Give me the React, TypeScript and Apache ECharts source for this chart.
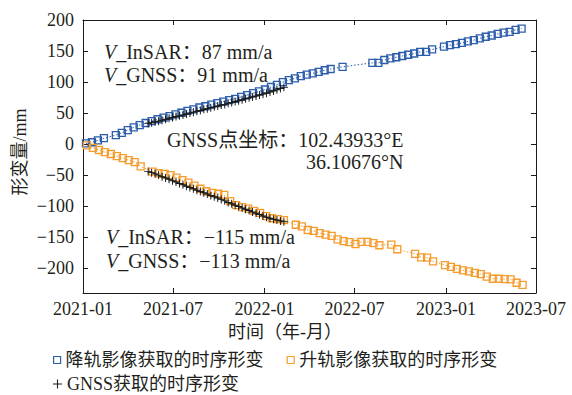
import React, { useEffect, useRef } from 'react';
import * as echarts from 'echarts';

const blueDates = [
  '2021-01-07', '2021-01-19', '2021-01-31', '2021-02-12', '2021-03-08', '2021-03-20', '2021-04-01', '2021-04-13',
  '2021-04-25', '2021-05-07', '2021-05-19', '2021-05-31', '2021-06-12', '2021-06-24', '2021-07-06', '2021-07-18',
  '2021-07-30', '2021-08-11', '2021-08-23', '2021-09-04', '2021-09-16', '2021-09-28', '2021-10-10', '2021-10-22',
  '2021-11-03', '2021-11-15', '2021-11-27', '2021-12-09', '2021-12-21', '2022-01-02', '2022-01-14', '2022-01-26',
  '2022-02-07', '2022-02-19', '2022-03-03', '2022-03-15', '2022-03-27', '2022-04-08', '2022-04-20', '2022-05-02',
  '2022-05-14', '2022-06-07', '2022-08-06', '2022-08-18', '2022-08-30', '2022-09-11', '2022-09-23', '2022-10-05',
  '2022-10-17', '2022-10-29', '2022-11-10', '2022-11-22', '2022-12-04', '2022-12-28', '2023-01-09', '2023-01-21',
  '2023-02-02', '2023-02-14', '2023-02-26', '2023-03-10', '2023-03-22', '2023-04-03', '2023-04-15', '2023-04-27',
  '2023-05-09', '2023-05-21', '2023-06-02',
];
const blueValues = [
  1, 3, 6, 9.5, 14.5, 18, 22.5, 27,
  30.5, 34, 37, 40, 42.5, 45, 48, 50.5,
  53.5, 56, 59, 61, 63.5, 66, 68.5, 71,
  73, 76, 79, 82, 85, 88, 92, 95.5,
  100, 103, 106, 109.5, 112, 114, 116.5, 119,
  121, 124.5, 131, 131, 135.5, 138, 140, 142,
  144, 146, 148.5, 148.5, 152.5, 157, 159.5, 161,
  163, 165.5, 167.5, 170.5, 173, 175, 177.5, 179.5,
  181, 184, 186,
];

const orangeDates = [
  '2021-01-09', '2021-01-21', '2021-02-02', '2021-02-14', '2021-02-26', '2021-03-10', '2021-03-22', '2021-04-03',
  '2021-04-15', '2021-04-27', '2021-05-21', '2021-06-02', '2021-06-14', '2021-06-26', '2021-07-08', '2021-07-20',
  '2021-08-01', '2021-08-13', '2021-08-25', '2021-09-06', '2021-09-18', '2021-09-30', '2021-10-12', '2021-10-24',
  '2021-11-05', '2021-11-17', '2021-11-29', '2021-12-11', '2021-12-23', '2022-01-04', '2022-01-16', '2022-01-28',
  '2022-02-09', '2022-03-05', '2022-03-17', '2022-03-29', '2022-04-10', '2022-04-22', '2022-05-04', '2022-05-16',
  '2022-05-28', '2022-06-09', '2022-06-21', '2022-07-03', '2022-07-15', '2022-07-27', '2022-08-08', '2022-08-20',
  '2022-09-13', '2022-09-25', '2022-10-31', '2022-11-12', '2022-11-24', '2022-12-06', '2022-12-30', '2023-01-11',
  '2023-01-23', '2023-02-04', '2023-02-16', '2023-02-28', '2023-03-12', '2023-03-24', '2023-04-05', '2023-04-17',
  '2023-04-29', '2023-05-11', '2023-05-23', '2023-06-04',
];
const orangeValues = [
  -2, -6, -9.5, -13, -16, -19.5, -22.5, -26,
  -29, -36, -44.5, -47, -48, -50, -54, -58,
  -62, -67, -72, -76, -78.5, -80, -82, -92,
  -98.5, -101.5, -104, -107.5, -111, -116, -119.5, -121,
  -122.5, -130, -132.5, -138.5, -140, -143.5, -146, -148,
  -153.5, -156.5, -158, -161, -157.5, -157.5, -159.5, -163,
  -162, -169.5, -177, -182.5, -183, -189, -195, -198,
  -201, -203.5, -205, -207.5, -209.7, -213.5, -217, -217,
  -217.5, -218, -223.5, -227,
];

const gnssDates = [
  '2021-05-12', '2021-05-19', '2021-05-26', '2021-06-02', '2021-06-09', '2021-06-16', '2021-06-23', '2021-06-30',
  '2021-07-07', '2021-07-14', '2021-07-21', '2021-07-28', '2021-08-04', '2021-08-11', '2021-08-18', '2021-08-25',
  '2021-09-01', '2021-09-08', '2021-09-15', '2021-09-22', '2021-09-29', '2021-10-06', '2021-10-13', '2021-10-20',
  '2021-10-27', '2021-11-03', '2021-11-10', '2021-11-17', '2021-11-24', '2021-12-01', '2021-12-08', '2021-12-15',
  '2021-12-22', '2021-12-29', '2022-01-05', '2022-01-12', '2022-01-19', '2022-01-26', '2022-02-02', '2022-02-09',
];
const gnssDescValues = [
  33, 34.5, 36, 37, 38.5, 40, 41.5, 43,
  44.5, 45.5, 47, 48.5, 50, 51.5, 53, 54,
  56, 57, 58.5, 60, 61.5, 63, 64, 66,
  67, 68.5, 70, 71.5, 73, 74.5, 76, 77.5,
  79, 80.5, 82, 84, 85.5, 87.5, 89.5, 91.5,
];
const gnssAscValues = [
  -44, -46, -48, -50, -52.5, -54.5, -56.5, -59,
  -61, -63.5, -65.5, -68, -70, -72, -74.5, -76.5,
  -78.5, -80.5, -83, -85, -87, -89.5, -91.5, -94,
  -96, -98.5, -100.5, -103, -105, -107, -109.5, -111.5,
  -113.5, -116, -118, -119.5, -121, -122.5, -124, -125,
];

const yTicks = [-200, -150, -100, -50, 0, 50, 100, 150, 200];
const xTickMonths = ['2021-01-01', '2021-07-01', '2022-01-01', '2022-07-01', '2023-01-01', '2023-07-01'];

const seriesNames = ['降轨影像获取的时序形变', '升轨影像获取的时序形变', 'GNSS获取的时序形变'];

const FAM = '"Liberation Serif", "Noto Sans CJK SC", serif';
const TXT = '#231f20';
const BLUE = '#2b5dab';
const ORANGE = '#f59c2f';
const BLACK = '#1a1a1a';
const PLUS = 'path://M4.4,0h1.2v4.4h4.4v1.2h-4.4v4.4h-1.2v-4.4h-4.4v-1.2h4.4z';

function ts(s: string) {
  const [y, m, d] = s.split('-').map(Number);
  return Date.UTC(y, m - 1, d);
}
function fmtMonth(v: number) {
  const d = new Date(v);
  const m = d.getUTCMonth() + 1;
  return d.getUTCFullYear() + '-' + (m < 10 ? '0' + m : '' + m);
}
function fmtY(v: number) {
  return v < 0 ? '\u2212' + Math.abs(v) : String(v);
}

export default function App() {
  const ref = useRef<HTMLDivElement>(null);
  useEffect(() => {
    const chart = echarts.init(ref.current!, null, { renderer: 'svg' });
    const xTicks = xTickMonths.map(ts);
    const xMin = xTicks[0];
    const xMax = xTicks[xTicks.length - 1];
    const baseX = {
      type: 'value',
      min: xMin,
      max: xMax,
      axisLine: { show: true, onZero: false, lineStyle: { color: BLACK, width: 1 } },
      axisTick: { show: true, inside: true, length: 5, customValues: xTicks, lineStyle: { color: BLACK } },
      splitLine: { show: false },
    };
    const baseY = {
      type: 'value',
      min: -240,
      max: 200,
      axisLine: { show: true, onZero: false, lineStyle: { color: BLACK, width: 1 } },
      axisTick: { show: true, inside: true, length: 5, customValues: yTicks, lineStyle: { color: BLACK } },
      splitLine: { show: false },
    };
    const insarSeries = (name: string, dates: string[], vals: number[], color: string) => ({
      name,
      type: 'line',
      data: dates.map((d, i) => [ts(d), vals[i]]),
      symbol: 'rect',
      symbolSize: 7,
      showAllSymbol: true,
      lineStyle: { color, width: 1, type: [1.5, 2] },
      itemStyle: { color: 'rgba(255,255,255,0)', borderColor: color, borderWidth: 1.3 },
      z: 2,
    });
    const gnssSeries = (vals: number[], id: string) => ({
      name: seriesNames[2],
      id,
      type: 'line',
      data: gnssDates.map((d, i) => [ts(d), vals[i]]),
      symbol: PLUS,
      symbolSize: 8,
      showAllSymbol: true,
      lineStyle: { color: BLACK, width: 1 },
      itemStyle: { color: BLACK },
      z: 3,
    });
    const txt = (x: number, y: number, text: string) => ({
      type: 'text',
      x,
      y,
      style: {
        text,
        fontSize: 20,
        fontFamily: FAM,
        fill: TXT,
        verticalAlign: 'middle',
        rich: { i: { fontStyle: 'italic', fontSize: 20, fontFamily: FAM, fill: TXT } },
      },
    });
    const option: any = {
      animation: false,
      backgroundColor: '#fff',
      textStyle: { fontFamily: FAM, color: TXT },
      grid: { left: 83, right: 36, top: 20, bottom: 102, containLabel: false },
      xAxis: [
        {
          ...baseX,
          position: 'bottom',
          axisLabel: {
            show: true,
            customValues: xTicks,
            formatter: (v: number) => fmtMonth(v),
            fontSize: 18,
            fontFamily: FAM,
            color: TXT,
            margin: 7,
            hideOverlap: false,
          },
        },
        { ...baseX, position: 'top', axisLabel: { show: false } },
      ],
      yAxis: [
        {
          ...baseY,
          position: 'left',
          axisLabel: {
            show: true,
            customValues: yTicks,
            formatter: (v: number) => fmtY(v),
            fontSize: 18,
            fontFamily: FAM,
            color: TXT,
            margin: 9,
          },
        },
        { ...baseY, position: 'right', axisLabel: { show: false } },
      ],
      legend: [
        {
          left: 53,
          top: 351,
          padding: 0,
          itemWidth: 7,
          itemHeight: 7,
          itemGap: 23,
          textStyle: { fontSize: 18, fontFamily: FAM, color: TXT },
          data: [
            { name: seriesNames[0], icon: 'rect', itemStyle: { color: '#fff', borderColor: BLUE, borderWidth: 1.2 } },
            { name: seriesNames[1], icon: 'rect', itemStyle: { color: '#fff', borderColor: ORANGE, borderWidth: 1.2 } },
          ],
          selectedMode: false,
        },
        {
          left: 53,
          top: 375,
          padding: 0,
          itemWidth: 9,
          itemHeight: 9,
          textStyle: { fontSize: 18, fontFamily: FAM, color: TXT },
          data: [{ name: seriesNames[2], icon: PLUS, itemStyle: { color: BLACK } }],
          selectedMode: false,
        },
      ],
      series: [
        insarSeries(seriesNames[0], blueDates, blueValues, BLUE),
        insarSeries(seriesNames[1], orangeDates, orangeValues, ORANGE),
        gnssSeries(gnssDescValues, 'gnssDesc'),
        gnssSeries(gnssAscValues, 'gnssAsc'),
      ],
      graphic: [
        txt(104, 52, '{i|V}_InSAR：87 mm/a'),
        txt(104, 75, '{i|V}_GNSS：91 mm/a'),
        txt(167, 140, 'GNSS点坐标：102.43933°E'),
        txt(306, 162, '36.10676°N'),
        txt(106, 237, '{i|V}_InSAR：\u2212115 mm/a'),
        txt(106, 261, '{i|V}_GNSS：\u2212113 mm/a'),
        {
          type: 'text',
          x: 20,
          y: 152,
          rotation: Math.PI / 2,
          style: { text: '形变量/mm', fontSize: 18, fontFamily: FAM, fill: TXT, align: 'center', verticalAlign: 'middle' },
        },
        {
          type: 'text',
          x: 285,
          y: 332,
          style: { text: '时间（年-月）', fontSize: 18, fontFamily: FAM, fill: TXT, align: 'center', verticalAlign: 'middle' },
        },
      ],
    };
    chart.setOption(option);
    return () => chart.dispose();
  }, []);
  return <div ref={ref} style={{ position: 'fixed', left: 0, top: 0, width: 572, height: 395 }} />;
}
